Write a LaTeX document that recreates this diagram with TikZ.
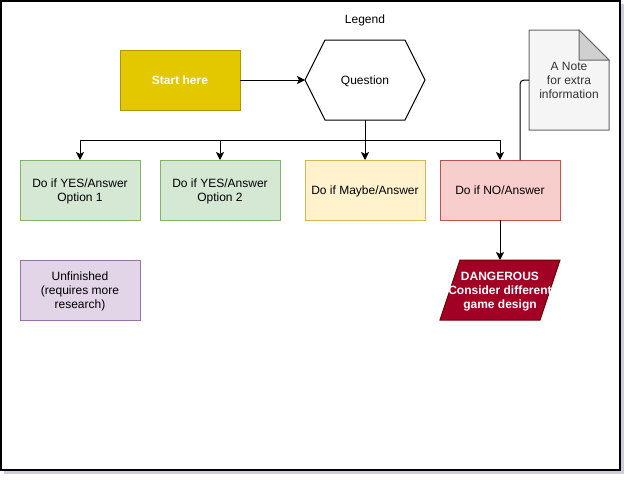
\documentclass[tikz,border=0pt]{standalone}
\usepackage{fontspec}
\setmainfont{Liberation Sans}
\usepackage{xcolor}
\usetikzlibrary{positioning,arrows.meta,backgrounds}

\definecolor{startfill}{HTML}{E3C800}
\definecolor{startline}{HTML}{B09500}
\definecolor{yesfill}{HTML}{D5E8D4}
\definecolor{yesline}{HTML}{82B366}
\definecolor{maybefill}{HTML}{FFF2CC}
\definecolor{maybeline}{HTML}{D6B656}
\definecolor{nofill}{HTML}{F8CECC}
\definecolor{noline}{HTML}{B85450}
\definecolor{todofill}{HTML}{E1D5E7}
\definecolor{todoline}{HTML}{9673A6}
\definecolor{dangerfill}{HTML}{A20025}
\definecolor{dangerline}{HTML}{6F0000}
\definecolor{notefill}{HTML}{F5F5F5}
\definecolor{noteline}{HTML}{666666}
\definecolor{notetext}{HTML}{333333}
\definecolor{shadowgray}{HTML}{CDCDD8}

\begin{document}
\begin{tikzpicture}[
    x=0.75pt, y=-0.75pt,
    font=\fontsize{9}{10.5}\selectfont,
    box/.style={
        rectangle,
        draw,
        line width=0.75pt,
        outer sep=0pt,
        inner sep=0pt,
        align=center,
        text depth=0pt,
        minimum width=90pt,
        minimum height=45pt
    },
    startbox/.style={box, fill=startfill, draw=startline, text=white, font=\fontsize{9}{10.5}\selectfont\bfseries},
    yesbox/.style={box, fill=yesfill, draw=yesline},
    maybebox/.style={box, fill=maybefill, draw=maybeline},
    nobox/.style={box, fill=nofill, draw=noline},
    todobox/.style={box, fill=todofill, draw=todoline},
    shapeonly/.style={box, draw=none},
    outline/.style={line width=0.75pt},
    arrow/.style={-{Stealth[length=6pt,width=6pt,inset=1.5pt]}, line width=0.75pt}
]

\useasboundingbox (0,0) rectangle (633,482);

% frame with shadow
\begin{scope}[on background layer]
\fill[shadowgray] (4,4) rectangle (624,474);
\filldraw[fill=white, line width=1.5pt] (1,1) rectangle (620,470);
\end{scope}

\node (legend) at (365,20) {Legend};
\node[startbox] (start) at (180,80) {Start here};
\node[shapeonly, minimum height=60pt, right=48.75pt of start] (question) {Question};

\node[yesbox] (yes1) at (80,190) {Do if YES/Answer\\Option 1};
\node[yesbox, right=15pt of yes1] (yes2) {Do if YES/Answer\\Option 2};
\node[maybebox, right=18.75pt of yes2] (maybe) {Do if Maybe/Answer};
\node[nobox, right=11.25pt of maybe] (no) {Do if NO/Answer};

\node[todobox, below=30pt of yes1] (todo) {Unfinished\\(requires more\\research)};
\node[shapeonly, below=30pt of no, text=white, font=\fontsize{9}{10.5}\selectfont\bfseries] (danger) {DANGEROUS\\Consider different\\game design};

\node[shapeonly, minimum width=60pt, minimum height=75pt, text=notetext] (note) at (569,80) {A Note\\for extra\\information};

% outlines drawn from the anchors
\begin{scope}[on background layer]
\draw[outline] (question.west) -- ([xshift=15pt]question.north west) -- ([xshift=-15pt]question.north east)
    -- (question.east) -- ([xshift=-15pt]question.south east) -- ([xshift=15pt]question.south west) -- cycle;
\filldraw[outline, fill=dangerfill, draw=dangerline] ([xshift=15pt]danger.north west) -- (danger.north east)
    -- ([xshift=-15pt]danger.south east) -- (danger.south west) -- cycle;
\filldraw[outline, fill=notefill, draw=noteline] (note.north west) -- ([xshift=-22.5pt]note.north east)
    -- ([yshift=-22.5pt]note.north east) -- (note.south east) -- (note.south west) -- cycle;
\filldraw[outline, fill=notefill!85!black, draw=noteline] ([xshift=-22.5pt]note.north east)
    -- ([xshift=-22.5pt,yshift=-22.5pt]note.north east) -- ([yshift=-22.5pt]note.north east) -- cycle;
\end{scope}

\coordinate[below=15pt of question.south] (fork);

\draw[arrow] (start) -- (question);
\draw[arrow] (question) -- (maybe);
\draw[arrow] (fork) -| (yes1);
\draw[arrow] (fork) -| (yes2);
\draw[arrow] (fork) -| (no);
\draw[arrow] (no) -- (danger);
\draw[outline, rounded corners=3pt] (note.west) -| ([xshift=15pt]no.north);

\end{tikzpicture}
\end{document}
